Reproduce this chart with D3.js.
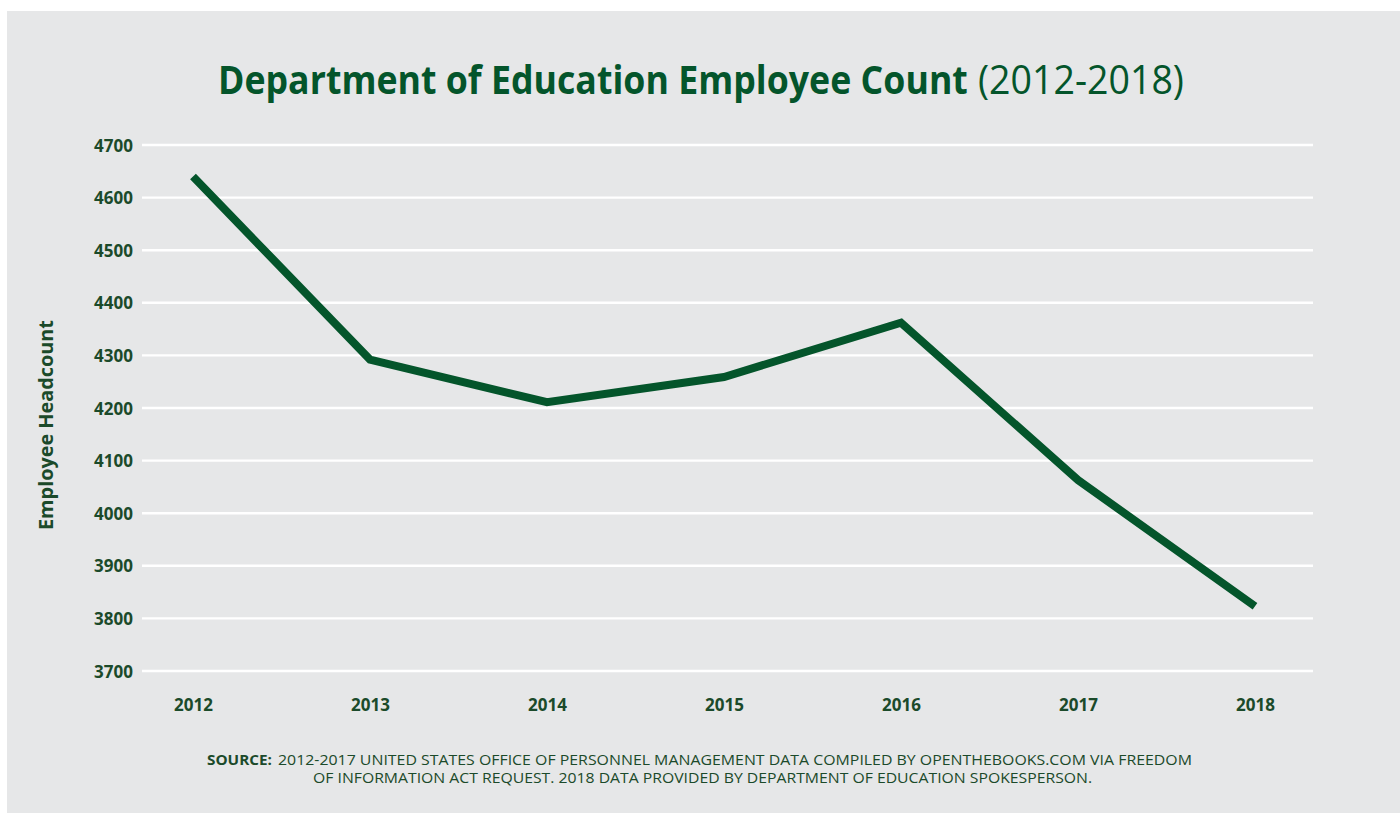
<!DOCTYPE html>
<html>
<head>
<meta charset="utf-8">
<script src="https://cdn.jsdelivr.net/npm/d3@7/dist/d3.min.js"></script>
<style>
  html, body { margin: 0; padding: 0; background: #ffffff; }
  svg { display: block; }
</style>
</head>
<body>
<svg id="chart" width="1400" height="814"></svg>
<script>
const years = ["2012", "2013", "2014", "2015", "2016", "2017", "2018"];
const headcount = [4640, 4292, 4211, 4259, 4362, 4063, 3823];
const yTicks = [3700, 3800, 3900, 4000, 4100, 4200, 4300, 4400, 4500, 4600, 4700];
const titleBold = "Department of Education Employee Count";
const titleLight = "(2012-2018)";
const yLabel = "Employee Headcount";
const sourceLead = "SOURCE:";
const sourceLine1 = "2012-2017 UNITED STATES OFFICE OF PERSONNEL MANAGEMENT DATA COMPILED BY OPENTHEBOOKS.COM VIA FREEDOM";
const sourceLine2 = "OF INFORMATION ACT REQUEST. 2018 DATA PROVIDED BY DEPARTMENT OF EDUCATION SPOKESPERSON.";

const green = "#04552b";
const labelGreen = "#1b4a2a";
const font = "'Open Sans', 'Noto Sans', sans-serif";

const svg = d3.select("#chart");

// panel
svg.append("rect").attr("x", 7).attr("y", 11).attr("width", 1393).attr("height", 802).attr("fill", "#e6e7e8");

const x = d3.scalePoint().domain(years).range([193, 1255]).padding(0);
const y = d3.scaleLinear().domain([3700, 4700]).range([671, 145]);

// gridlines
svg.append("g").selectAll("line").data(yTicks).join("line")
  .attr("x1", 142).attr("x2", 1313)
  .attr("y1", d => y(d)).attr("y2", d => y(d))
  .attr("stroke", "#ffffff").attr("stroke-width", 2.4);

// y axis
const yAxis = svg.append("g").attr("transform", "translate(133,0)")
  .call(d3.axisLeft(y).tickValues(yTicks).tickSize(0).tickPadding(0).tickFormat(d3.format("d")));
yAxis.select(".domain").remove();
yAxis.selectAll("text")
  .attr("font-family", font).attr("font-weight", "bold").attr("font-size", 17)
  .attr("fill", labelGreen).attr("dy", "0.36em");

// x axis
const xAxis = svg.append("g").attr("transform", "translate(0,705)")
  .call(d3.axisBottom(x).tickSize(0).tickPadding(0));
xAxis.select(".domain").remove();
xAxis.selectAll("text")
  .attr("font-family", font).attr("font-weight", "bold").attr("font-size", 17)
  .attr("fill", labelGreen).attr("dy", "0.36em");

// line
const line = d3.line().x((d, i) => x(years[i])).y(d => y(d));
svg.append("path").datum(headcount)
  .attr("d", line).attr("fill", "none")
  .attr("stroke", green).attr("stroke-width", 8)
  .attr("stroke-linejoin", "miter").attr("stroke-linecap", "butt");

// y label
svg.append("text")
  .attr("transform", "translate(53,425) rotate(-90)")
  .attr("text-anchor", "middle")
  .attr("font-family", font).attr("font-weight", "bold").attr("font-size", 19)
  .attr("fill", labelGreen)
  .attr("textLength", 210).attr("lengthAdjust", "spacingAndGlyphs")
  .text(yLabel);

// fitted text: horizontally scaled so its width matches the reference
function fitted(str, x0, y0, width, size, weight, color) {
  const t = svg.append("text")
    .attr("font-family", font).attr("font-size", size).attr("font-weight", weight)
    .attr("fill", color).text(str);
  const w = t.node().getComputedTextLength();
  t.attr("transform", `translate(${x0},${y0}) scale(${width / w},1)`);
  return t;
}

// title
fitted(titleBold, 218, 94, 750, 40, "bold", green);
fitted(titleLight, 978, 94, 206, 40, "normal", green);

// source
fitted(sourceLead, 207, 765, 65, 15, "bold", labelGreen);
fitted(sourceLine1, 278, 765, 915, 15, "normal", labelGreen);
fitted(sourceLine2, 313, 783, 780, 15, "normal", labelGreen);
</script>
</body>
</html>
